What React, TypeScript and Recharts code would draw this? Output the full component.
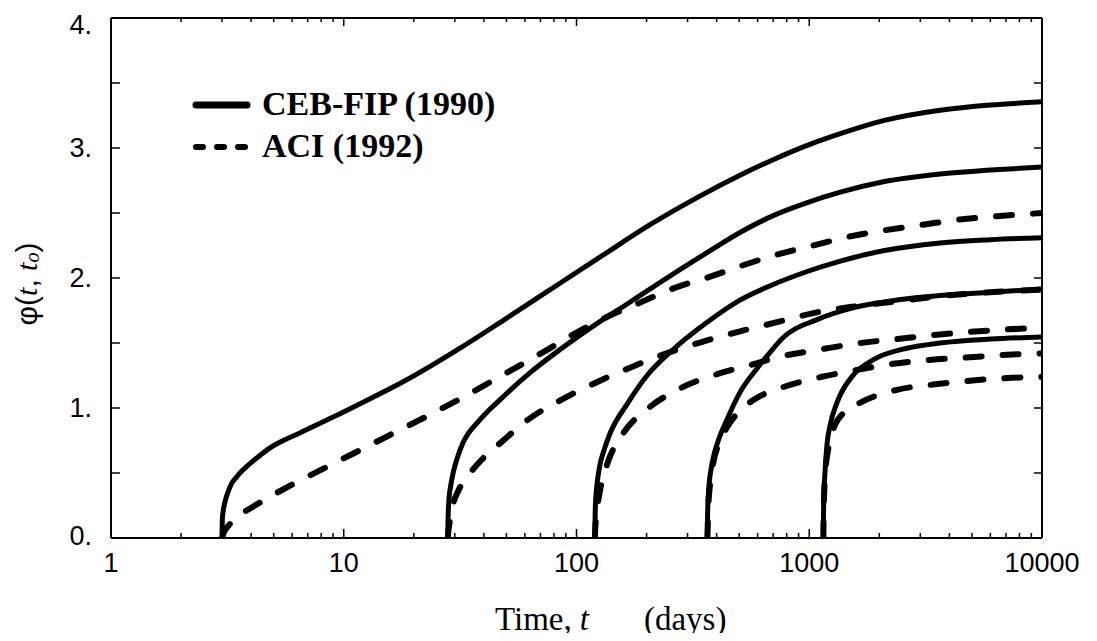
import React from 'react';
import { LineChart, Line, XAxis, YAxis } from 'recharts';

const W = 1081;
const H = 625;

// Tick values
const xLabelTicks = [1, 10, 100, 1000, 10000];
const xMinorFactors = [2, 3, 4, 5, 6, 7, 8, 9];
const yTicks = [0, 0.5, 1, 1.5, 2, 2.5, 3, 3.5, 4];
const yLabelTicks = [0, 1, 2, 3, 4];

// Series names
const legendSolid = 'CEB-FIP (1990)';
const legendDashed = 'ACI (1992)';

// CEB-FIP (1990) curves, [t (days), phi]
const ceb3: [number, number][] = [
  [3, 0], [3.01, 0.15], [3.03, 0.2], [3.08, 0.27], [3.15, 0.33], [3.3, 0.42], [3.45, 0.465],
  [3.58, 0.5], [3.8, 0.545], [4.0, 0.58], [4.3, 0.625], [4.7, 0.68], [5.5, 0.75], [6.5, 0.81],
  [9, 0.93], [12.6, 1.06], [17.5, 1.19], [24, 1.33], [31.6, 1.46], [50, 1.69], [77, 1.91],
  [126, 2.16], [207, 2.41], [339, 2.63], [504, 2.79], [700, 2.91], [980, 3.02], [1360, 3.11],
  [2080, 3.21], [3650, 3.29], [6000, 3.33], [10000, 3.355],
];
const ceb28: [number, number][] = [
  [28, 0], [28.05, 0.12], [28.15, 0.22], [28.35, 0.31], [28.8, 0.4], [29.5, 0.5], [30.8, 0.62],
  [32.5, 0.73], [38.5, 0.91], [48, 1.08], [63, 1.27], [85, 1.45], [118, 1.63], [165, 1.8],
  [213, 1.93], [287, 2.08], [375, 2.21], [504, 2.35], [700, 2.48], [980, 2.58], [1360, 2.66],
  [2080, 2.74], [3650, 2.8], [6000, 2.83], [10000, 2.854],
];
const ceb120: [number, number][] = [
  [120, 0], [120.2, 0.15], [120.7, 0.27], [121.5, 0.35], [123, 0.44], [126, 0.56], [131, 0.67],
  [139, 0.8], [165, 1.03], [201, 1.25], [260, 1.45], [364, 1.66], [504, 1.83], [700, 1.95],
  [980, 2.05], [1360, 2.13], [2080, 2.21], [3650, 2.27], [6000, 2.295], [10000, 2.31],
];
const ceb365: [number, number][] = [
  [365, 0], [365.5, 0.15], [366.5, 0.24], [368.5, 0.33], [372, 0.43], [377, 0.51], [385, 0.6],
  [405, 0.74], [443, 0.91], [504, 1.12], [600, 1.31], [680, 1.43], [771, 1.54], [1080, 1.68],
  [1540, 1.77], [2380, 1.83], [3650, 1.865], [6000, 1.89], [10000, 1.915],
];
const ceb1150: [number, number][] = [
  [1150, 0], [1151, 0.15], [1154, 0.28], [1160, 0.4], [1168, 0.5], [1180, 0.62], [1192, 0.72],
  [1230, 0.87], [1315, 1.04], [1540, 1.25], [1880, 1.37], [2630, 1.46], [3650, 1.5], [6000, 1.53],
  [10000, 1.546],
];

// ACI (1992) curves, [t (days), phi]
const aci3: [number, number][] = [
  [3, 0], [3.05, 0.04], [3.2, 0.095], [3.48, 0.16], [4.07, 0.24], [5.7, 0.39], [7.9, 0.52],
  [11, 0.65], [15.3, 0.78], [21.3, 0.91], [31.6, 1.07], [50, 1.27], [72, 1.43], [100, 1.58],
  [135, 1.7], [187, 1.81], [270, 1.93], [375, 2.01], [504, 2.09], [727, 2.18], [1040, 2.25],
  [1500, 2.32], [2160, 2.37], [3080, 2.41], [4440, 2.45], [6410, 2.475], [10000, 2.5],
];
const aci28: [number, number][] = [
  [28, 0], [28.1, 0.04], [28.4, 0.1], [28.9, 0.18], [29.5, 0.26], [31, 0.36], [34.9, 0.5],
  [40, 0.62], [47, 0.73], [63, 0.92], [87.5, 1.07], [126, 1.21], [175, 1.32], [252, 1.43],
  [349, 1.51], [504, 1.59], [727, 1.66], [1040, 1.73], [1540, 1.78], [2380, 1.82], [3650, 1.86],
  [6000, 1.89], [10000, 1.91],
];
const aci120: [number, number][] = [
  [120, 0], [120.3, 0.06], [121, 0.13], [122.5, 0.22], [126, 0.36], [135, 0.56], [158, 0.8],
  [201, 0.99], [278, 1.15], [402, 1.26], [556, 1.33], [771, 1.4], [1112, 1.45], [1651, 1.5],
  [2383, 1.53], [3400, 1.56], [4900, 1.585], [7080, 1.605], [10000, 1.615],
];
const aci365: [number, number][] = [
  [365, 0], [366, 0.07], [369, 0.26], [375, 0.42], [386, 0.57], [410, 0.73], [443, 0.85],
  [519, 1.0], [573, 1.06], [771, 1.16], [1135, 1.24], [1573, 1.29], [2290, 1.34], [3300, 1.37],
  [4900, 1.39], [7080, 1.41], [10000, 1.42],
];
const aci1150: [number, number][] = [
  [1150, 0], [1152, 0.15], [1160, 0.36], [1175, 0.53], [1200, 0.66], [1240, 0.78], [1290, 0.87],
  [1400, 0.96], [1651, 1.04], [2383, 1.14], [3400, 1.18], [4900, 1.21], [7080, 1.23], [10000, 1.24],
];

const solidSeries = [ceb3, ceb28, ceb120, ceb365, ceb1150];
const dashedSeries = [aci3, aci28, aci120, aci365, aci1150];

const toPts = (a: [number, number][]) => a.map(([t, v]) => ({ t, v }));

const xTicks = [
  ...xLabelTicks,
  ...xLabelTicks.slice(0, -1).flatMap((d) => xMinorFactors.map((f) => d * f)),
].sort((a, b) => a - b);

const SANS = "'Liberation Sans', Arial, Helvetica, sans-serif";
const SERIF = "'Liberation Serif', 'Times New Roman', Times, serif";

const BottomTick = (props: any) => {
  const { x, y, payload } = props;
  const v = payload.value;
  const major = xLabelTicks.includes(v);
  return (
    <g>
      <line x1={x} x2={x} y1={y} y2={y - (major ? 9 : 5)} stroke="#000" strokeWidth={1.5} />
      {major && (
        <text x={x} y={y + 25} textAnchor="middle" dominantBaseline="central" fontSize={27} fontFamily={SANS} fill="#000">
          {v}
        </text>
      )}
    </g>
  );
};

const TopTick = (props: any) => {
  const { x, y, payload } = props;
  const major = xLabelTicks.includes(payload.value);
  return <line x1={x} x2={x} y1={y} y2={y + (major ? 8 : 4)} stroke="#000" strokeWidth={1.5} />;
};

const LeftTick = (props: any) => {
  const { x, y, payload } = props;
  const v = payload.value;
  const dy = v === 4 ? 7 : v === 0 ? -2 : 0;
  return (
    <g>
      <line x1={x} x2={x + 9} y1={y} y2={y} stroke="#000" strokeWidth={1.5} />
      {yLabelTicks.includes(v) && (
        <text x={x - 19} y={y + dy} textAnchor="end" dominantBaseline="central" fontSize={27} fontFamily={SANS} fill="#000">
          {`${v}.`}
        </text>
      )}
    </g>
  );
};

const RightTick = (props: any) => {
  const { x, y } = props;
  return <line x1={x} x2={x - 8} y1={y} y2={y} stroke="#000" strokeWidth={1.5} />;
};

const axisLine = { stroke: '#000', strokeWidth: 2 };

export default function App() {
  return (
    <div style={{ position: 'relative', width: W, height: H }}>
      <LineChart width={W} height={H} margin={{ top: 0, right: 0, bottom: 0, left: 0 }}>
        <XAxis
          xAxisId="b"
          type="number"
          dataKey="t"
          scale="log"
          domain={[1, 10000]}
          allowDataOverflow
          ticks={xTicks}
          interval={0}
          height={95}
          tickSize={0}
          tickMargin={0}
          tickLine={false}
          axisLine={axisLine}
          tick={<BottomTick />}
        />
        <XAxis
          xAxisId="top"
          orientation="top"
          type="number"
          dataKey="t"
          scale="log"
          domain={[1, 10000]}
          allowDataOverflow
          ticks={xTicks}
          interval={0}
          height={10}
          tickSize={0}
          tickMargin={0}
          tickLine={false}
          axisLine={axisLine}
          tick={<TopTick />}
        />
        <YAxis
          yAxisId="l"
          type="number"
          domain={[0, 4]}
          allowDataOverflow
          ticks={yTicks}
          interval={0}
          width={103}
          tickSize={0}
          tickMargin={0}
          tickLine={false}
          axisLine={axisLine}
          tick={<LeftTick />}
        />
        <YAxis
          yAxisId="r"
          orientation="right"
          type="number"
          domain={[0, 4]}
          allowDataOverflow
          ticks={yTicks}
          interval={0}
          width={47}
          tickSize={0}
          tickMargin={0}
          tickLine={false}
          axisLine={axisLine}
          tick={<RightTick />}
        />
        {dashedSeries.map((s, i) => (
          <Line
            key={`aci${i}`}
            xAxisId="b"
            yAxisId="l"
            data={toPts(s)}
            dataKey="v"
            type="monotoneX"
            stroke="#000"
            strokeWidth={6}
            strokeDasharray="16 21"
            strokeLinecap="round"
            dot={false}
            activeDot={false}
            isAnimationActive={false}
          />
        ))}
        {solidSeries.map((s, i) => (
          <Line
            key={`ceb${i}`}
            xAxisId="b"
            yAxisId="l"
            data={toPts(s)}
            dataKey="v"
            type="monotoneX"
            stroke="#000"
            strokeWidth={5}
            dot={false}
            activeDot={false}
            isAnimationActive={false}
          />
        ))}
      </LineChart>
      <svg
        width={W}
        height={H}
        style={{ position: 'absolute', left: 0, top: 0, overflow: 'visible', pointerEvents: 'none' }}
      >
        {/* legend */}
        <line x1={188} x2={239} y1={97} y2={97} stroke="#000" strokeWidth={7} strokeLinecap="round" />
        <text x={254} y={107} fontSize={34} fontWeight="bold" fontFamily={SERIF} fill="#000">
          {legendSolid}
        </text>
        <line x1={188} x2={240} y1={139} y2={139} stroke="#000" strokeWidth={6} strokeLinecap="round" strokeDasharray="7 14" />
        <text x={254} y={149} fontSize={34} fontWeight="bold" fontFamily={SERIF} fill="#000">
          {legendDashed}
        </text>
        {/* x title */}
        <text x={487} y={622} fontSize={33} fontFamily={SERIF} fill="#000">
          Time,
          <tspan dx={8} fontStyle="italic">t</tspan>
          <tspan dx={55}>(days)</tspan>
        </text>
        {/* y title */}
        <text transform="translate(18,276) rotate(-90)" textAnchor="middle" dominantBaseline="central" fontSize={30} fill="#000">
          <tspan fontFamily={SANS}>φ(</tspan>
          <tspan fontFamily={SERIF} fontStyle="italic">t</tspan>
          <tspan fontFamily={SANS}>, </tspan>
          <tspan fontFamily={SERIF} fontStyle="italic">t</tspan>
          <tspan fontFamily={SERIF} fontStyle="italic" fontSize={20} dy={6}>o</tspan>
          <tspan fontFamily={SANS} dy={-6}>)</tspan>
        </text>
      </svg>
    </div>
  );
}
